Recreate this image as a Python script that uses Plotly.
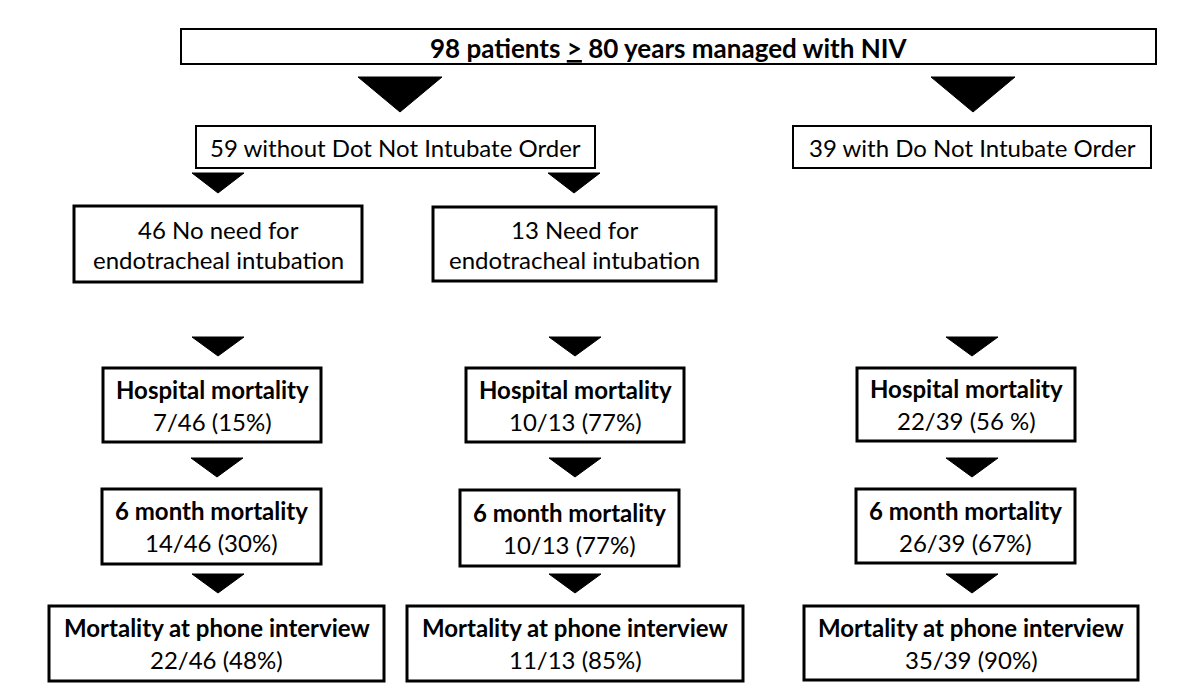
import plotly.graph_objects as go

# ---- content ----
top_title = "<b>98 patients <u>&gt;</u> 80 years managed with NIV</b>"
branch_labels = ["59 without Dot Not Intubate Order", "39 with Do Not Intubate Order"]
intub_labels = [["46 No need for", "endotracheal intubation"],
                ["13 Need for", "endotracheal intubation"]]
stage_titles = ["Hospital mortality", "6 month mortality", "Mortality at phone interview"]
deaths = [[7, 14, 22], [10, 10, 11], [22, 26, 35]]
totals = [46, 13, 39]
pct_labels = [["7/46 (15%)", "14/46 (30%)", "22/46 (48%)"],
              ["10/13 (77%)", "10/13 (77%)", "11/13 (85%)"],
              ["22/39 (56 %)", "26/39 (67%)", "35/39 (90%)"]]

# ---- layout geometry (pixels, y downward) ----
top_box = (181, 1156, 29, 64)
branch_boxes = [(196, 595, 126, 168), (793, 1151, 126, 168)]
intub_boxes = [(74, 362, 206, 282), (433, 716, 207, 281)]
stage_boxes = [
    [(103, 321, 368, 442), (102, 321, 489, 564), (49, 384, 606, 681)],
    [(466, 684, 368, 442), (460, 679, 490, 566), (407, 743, 606, 681)],
    [(857, 1075, 368, 441), (856, 1075, 489, 563), (804, 1138, 606, 680)],
]
# arrows: (center x, half width, top y, tip y)
arrows = [
    (400, 42, 77, 112), (973, 42, 77, 112),
    (218, 26, 173, 193), (574, 26, 173, 193),
    (218, 26, 337, 356), (575, 26, 337, 356), (972, 26, 337, 356),
    (217, 26, 458, 477), (575, 26, 458, 477), (972, 26, 458, 477),
    (218, 26, 574, 593), (575, 26, 574, 593), (972, 26, 574, 593),
]

FONT = "Lato"
FS = 24
LW = 2.5
OFF = 8  # page body margin offset

fig = go.Figure()
shapes = []
annotations = []

def add_box(b, lw=LW):
    x0, x1, y0, y1 = b
    shapes.append(dict(type="rect", xref="x", yref="y", x0=x0, x1=x1, y0=y0, y1=y1,
                       line=dict(color="black", width=lw), fillcolor="white", layer="below"))

def add_text(x, y, t, bold=False, size=FS):
    annotations.append(dict(x=x, y=y, xref="x", yref="y", text=(f"<b>{t}</b>" if bold else t),
                            showarrow=False, font=dict(family=FONT, size=size, color="black"),
                            xanchor="center", yanchor="middle"))

# top
add_box(top_box, 2)
add_text((top_box[0] + top_box[1]) / 2, (top_box[2] + top_box[3]) / 2 + 1, top_title, size=26)

for b, lab in zip(branch_boxes, branch_labels):
    add_box(b, 2)
    add_text((b[0] + b[1]) / 2, (b[2] + b[3]) / 2, lab)

for b, labs in zip(intub_boxes, intub_labels):
    add_box(b, 3)
    cx = (b[0] + b[1]) / 2
    cy = (b[2] + b[3]) / 2
    add_text(cx, cy - 15, labs[0])
    add_text(cx, cy + 15, labs[1])

for col in range(3):
    for s in range(3):
        b = stage_boxes[col][s]
        add_box(b, 3)
        cx = (b[0] + b[1]) / 2
        cy = (b[2] + b[3]) / 2
        add_text(cx, cy - 16, stage_titles[s], bold=True)
        add_text(cx, cy + 16, pct_labels[col][s])

for (cx, hw, yt, yp) in arrows:
    shapes.append(dict(type="path", xref="x", yref="y",
                       path=f"M {cx-hw},{yt} L {cx+hw},{yt} L {cx},{yp} Z",
                       fillcolor="black", line=dict(color="black", width=1)))

fig.update_layout(
    width=1200, height=700,
    margin=dict(l=0, r=0, t=0, b=0),
    paper_bgcolor="white", plot_bgcolor="white",
    xaxis=dict(range=[OFF, 1200 + OFF], visible=False, fixedrange=True),
    yaxis=dict(range=[700 + OFF, OFF], visible=False, fixedrange=True),
    shapes=shapes, annotations=annotations, showlegend=False,
)
fig.write_html("out.html")
